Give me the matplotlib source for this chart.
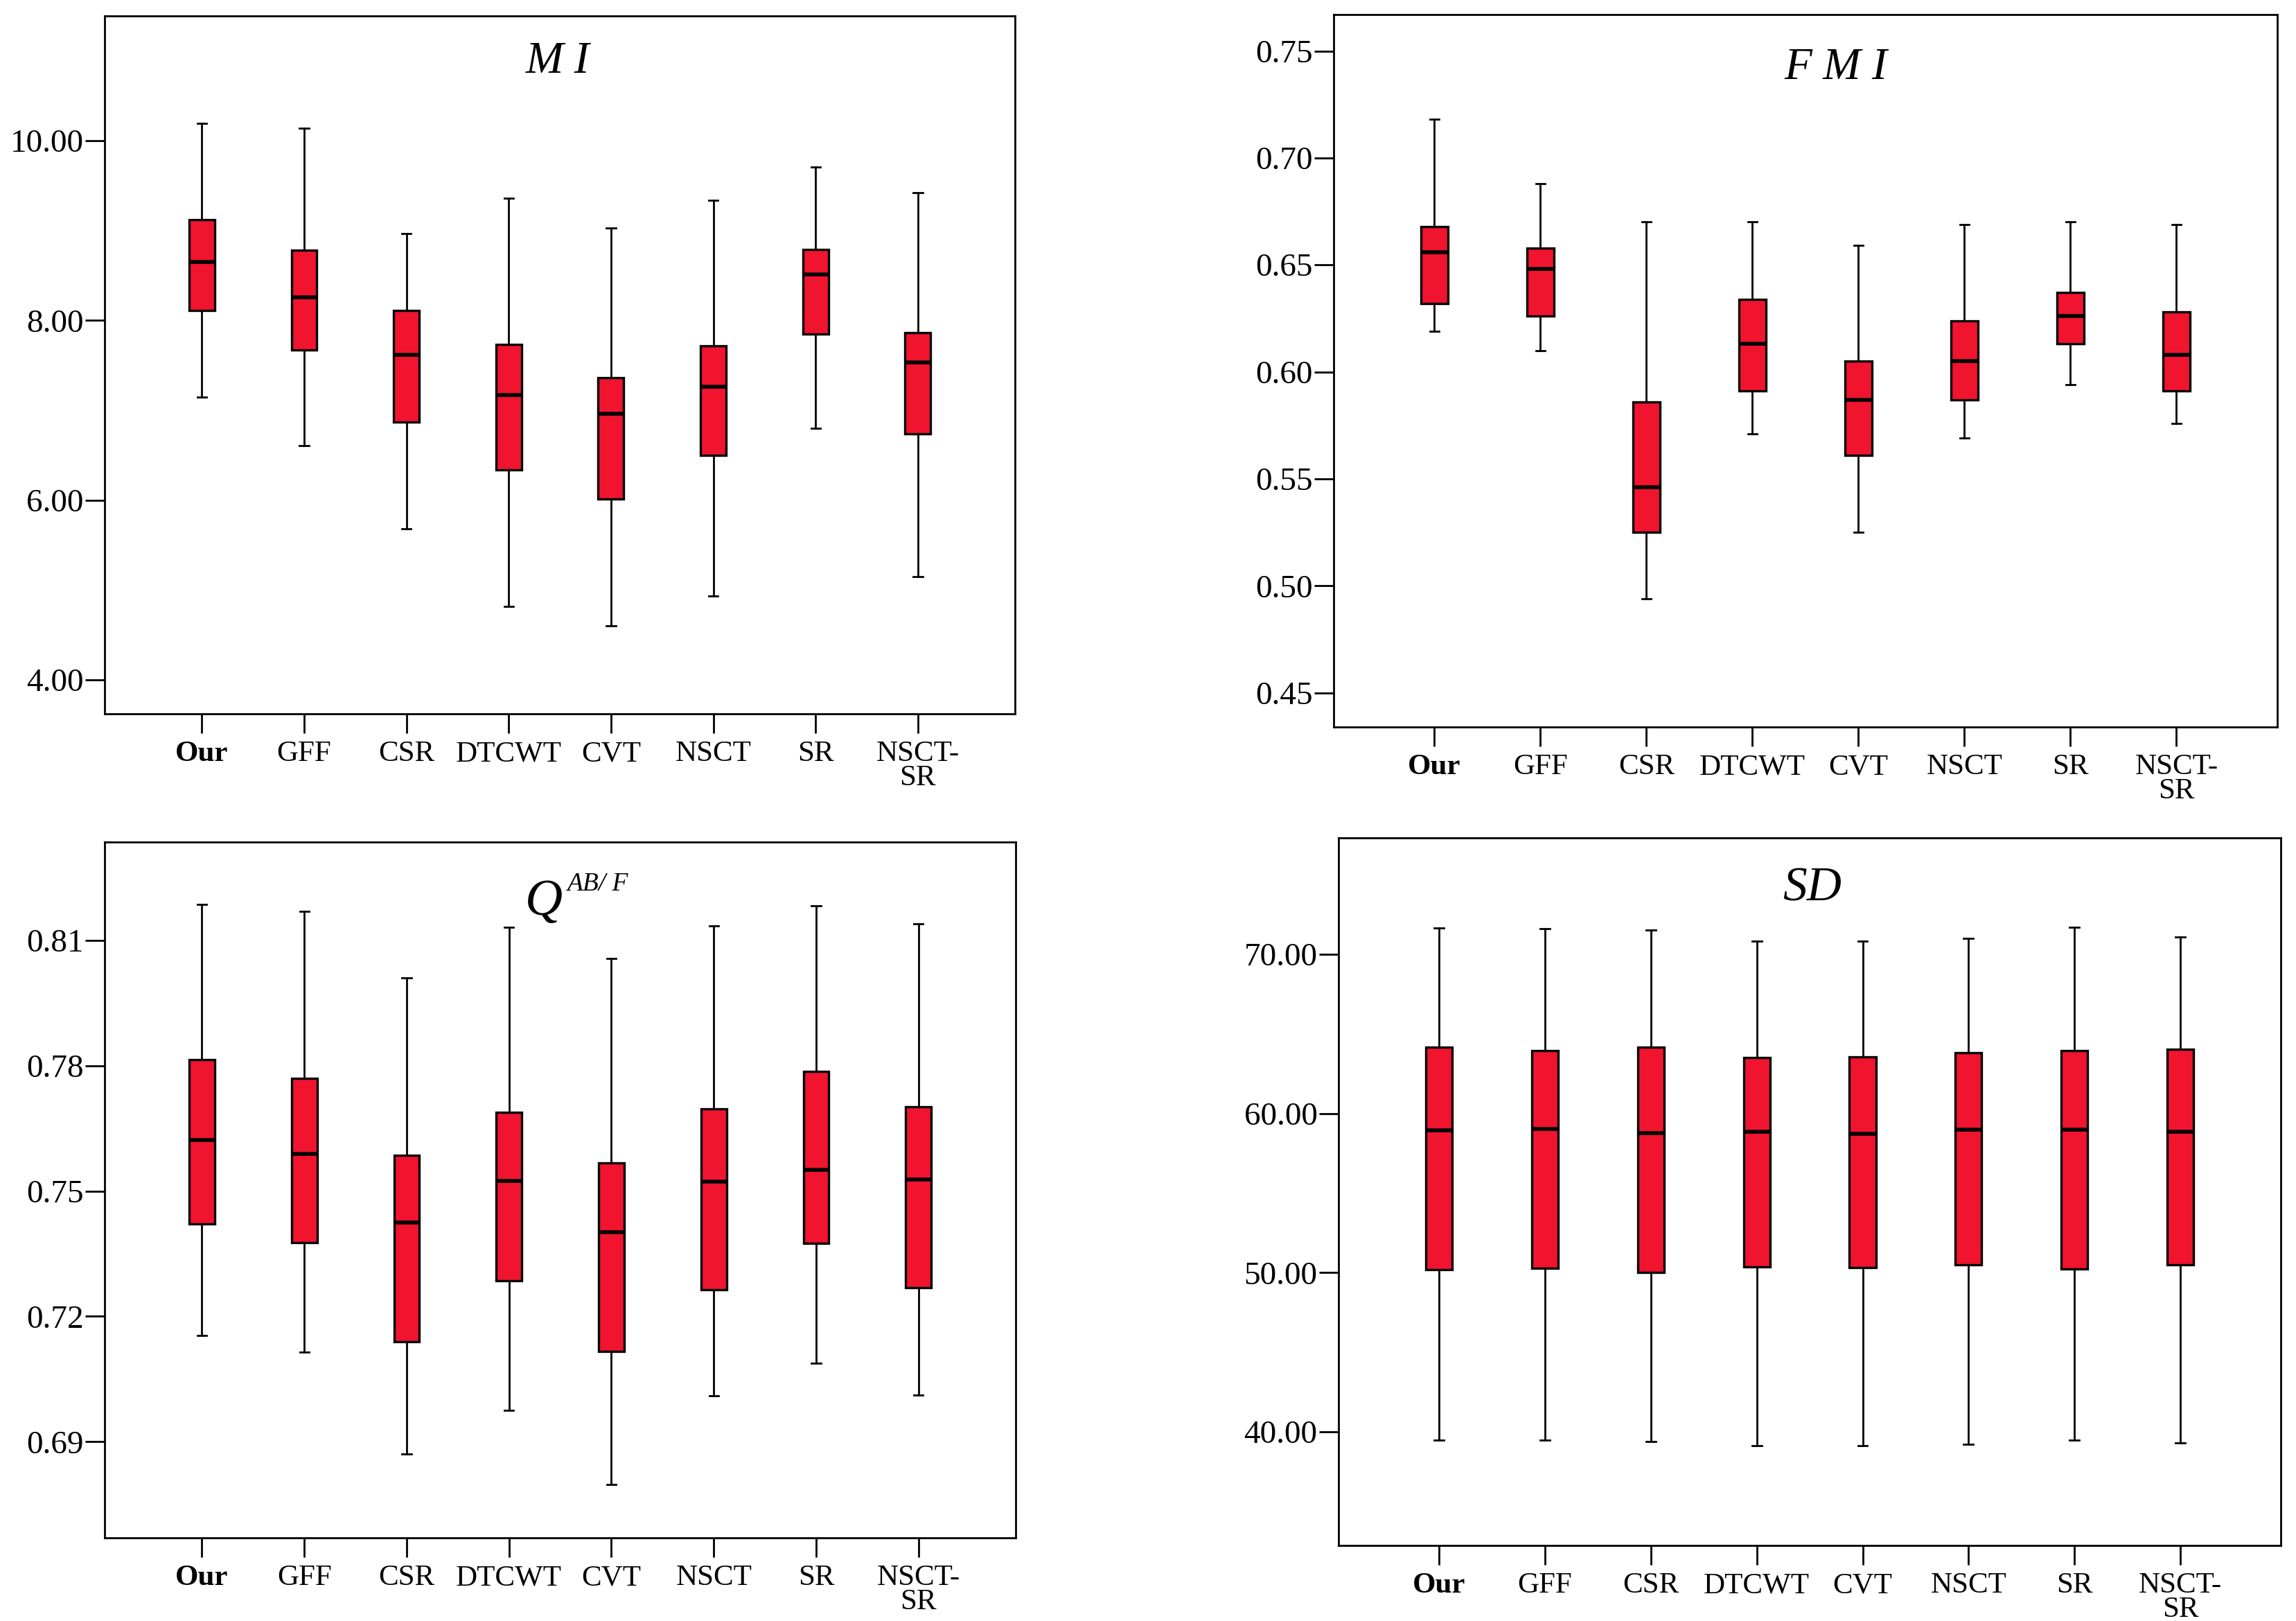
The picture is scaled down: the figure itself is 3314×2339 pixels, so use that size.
import matplotlib
matplotlib.use("Agg")
import matplotlib.pyplot as plt

plt.rcParams['font.family'] = ['Liberation Serif', 'DejaVu Serif']

methods = ["Our", "GFF", "CSR", "DTCWT", "CVT", "NSCT", "SR", "NSCT-\nSR"]

# MI
mi_whislo = [7.15, 6.61, 5.68, 4.82, 4.60, 4.93, 6.80, 5.15]
mi_q1     = [8.11, 7.67, 6.87, 6.34, 6.01, 6.50, 7.85, 6.74]
mi_med    = [8.65, 8.26, 7.62, 7.17, 6.96, 7.26, 8.51, 7.53]
mi_q3     = [9.12, 8.78, 8.11, 7.73, 7.36, 7.72, 8.79, 7.86]
mi_whishi = [10.19, 10.14, 8.97, 9.36, 9.03, 9.34, 9.71, 9.42]
mi_ticks  = [4.0, 6.0, 8.0, 10.0]

# FMI
fmi_whislo = [0.619, 0.610, 0.494, 0.571, 0.525, 0.569, 0.594, 0.576]
fmi_q1     = [0.632, 0.626, 0.525, 0.591, 0.561, 0.587, 0.613, 0.591]
fmi_med    = [0.656, 0.648, 0.546, 0.613, 0.587, 0.605, 0.626, 0.608]
fmi_q3     = [0.668, 0.658, 0.586, 0.634, 0.605, 0.624, 0.637, 0.628]
fmi_whishi = [0.718, 0.688, 0.670, 0.670, 0.659, 0.669, 0.670, 0.669]
fmi_ticks  = [0.45, 0.50, 0.55, 0.60, 0.65, 0.70, 0.75]

# Q^{AB/F}
q_whislo = [0.7155, 0.7114, 0.6871, 0.6976, 0.6797, 0.7010, 0.7088, 0.7012]
q_q1     = [0.7422, 0.7376, 0.7140, 0.7286, 0.7116, 0.7264, 0.7375, 0.7268]
q_med    = [0.7622, 0.7589, 0.7425, 0.7524, 0.7402, 0.7522, 0.7550, 0.7528]
q_q3     = [0.7815, 0.7770, 0.7586, 0.7689, 0.7568, 0.7696, 0.7787, 0.7702]
q_whishi = [0.8186, 0.8170, 0.8010, 0.8131, 0.8056, 0.8134, 0.8183, 0.8139]
q_ticks  = [0.69, 0.72, 0.75, 0.78, 0.81]

# SD
sd_whislo = [39.49, 39.49, 39.39, 39.13, 39.13, 39.23, 39.49, 39.30]
sd_q1     = [50.21, 50.27, 50.01, 50.37, 50.33, 50.50, 50.24, 50.50]
sd_med    = [58.93, 59.03, 58.77, 58.83, 58.74, 58.96, 58.99, 58.86]
sd_q3     = [64.14, 63.92, 64.14, 63.50, 63.53, 63.79, 63.95, 64.05]
sd_whishi = [71.64, 71.58, 71.51, 70.80, 70.80, 70.97, 71.67, 71.09]
sd_ticks  = [40.0, 50.0, 60.0, 70.0]

RED = '#F0142F'

panels = [
    dict(rect=[0.0456, 0.5596, 0.3965, 0.4306], ylim=(3.62, 11.39),
         data=(mi_whislo, mi_q1, mi_med, mi_q3, mi_whishi), ticks=mi_ticks,
         title='M I', tpos=(0.498, 0.934), tsize=23.5),
    dict(rect=[0.5809, 0.5515, 0.4109, 0.4395], ylim=(0.434, 0.767),
         data=(fmi_whislo, fmi_q1, fmi_med, fmi_q3, fmi_whishi), ticks=fmi_ticks,
         title='F M I', tpos=(0.532, 0.925), tsize=23.5),
    dict(rect=[0.0456, 0.0513, 0.3968, 0.4292], ylim=(0.667, 0.8335),
         data=(q_whislo, q_q1, q_med, q_q3, q_whishi), ticks=q_ticks,
         title=None),
    dict(rect=[0.5830, 0.0466, 0.4104, 0.4365], ylim=(32.87, 77.3),
         data=(sd_whislo, sd_q1, sd_med, sd_q3, sd_whishi), ticks=sd_ticks,
         title='SD', tpos=(0.503, 0.928), tsize=25),
]

fig = plt.figure(figsize=(16.57, 11.695), dpi=200)

for p in panels:
    ax = fig.add_axes(p['rect'])
    wl, q1, md, q3, wh = p['data']
    stats = []
    for i in range(len(methods)):
        stats.append(dict(whislo=wl[i], q1=q1[i], med=md[i], q3=q3[i],
                          whishi=wh[i], fliers=[], label=methods[i]))
    positions = list(range(1, len(methods) + 1))
    ax.bxp(stats, positions=positions, widths=0.25, capwidths=0.09,
           patch_artist=True, showfliers=False,
           boxprops=dict(facecolor=RED, edgecolor='black', linewidth=1.2),
           medianprops=dict(color='black', linewidth=2.0, solid_capstyle='butt'),
           whiskerprops=dict(color='black', linewidth=1.0),
           capprops=dict(color='black', linewidth=1.0))
    ax.set_xlim(0.05, 8.95)
    ax.set_ylim(*p['ylim'])
    ax.set_yticks(p['ticks'])
    ax.set_yticklabels(['%.2f' % t for t in p['ticks']], fontsize=17)
    ax.set_xticks(positions)
    ax.set_xticklabels(methods, fontsize=15.5, multialignment='center',
                       linespacing=0.88)
    ax.get_xticklabels()[0].set_fontweight('bold')
    ax.tick_params(axis='both', direction='out', length=10, width=1.0)
    ax.tick_params(axis='y', pad=1)
    ax.tick_params(axis='x', pad=4)
    for s in ax.spines.values():
        s.set_linewidth(1.0)
    if p['title'] is not None:
        ax.text(p['tpos'][0], p['tpos'][1], p['title'], transform=ax.transAxes,
                ha='center', va='center', fontsize=p['tsize'], style='italic')
    else:
        ax.text(0.5027, 0.8954, 'Q', transform=ax.transAxes, ha='right',
                va='baseline', fontsize=27, style='italic')
        ax.text(0.507, 0.930, 'AB/ F', transform=ax.transAxes, ha='left',
                va='baseline', fontsize=13.5, style='italic')

fig.savefig('out.png', dpi=200)
